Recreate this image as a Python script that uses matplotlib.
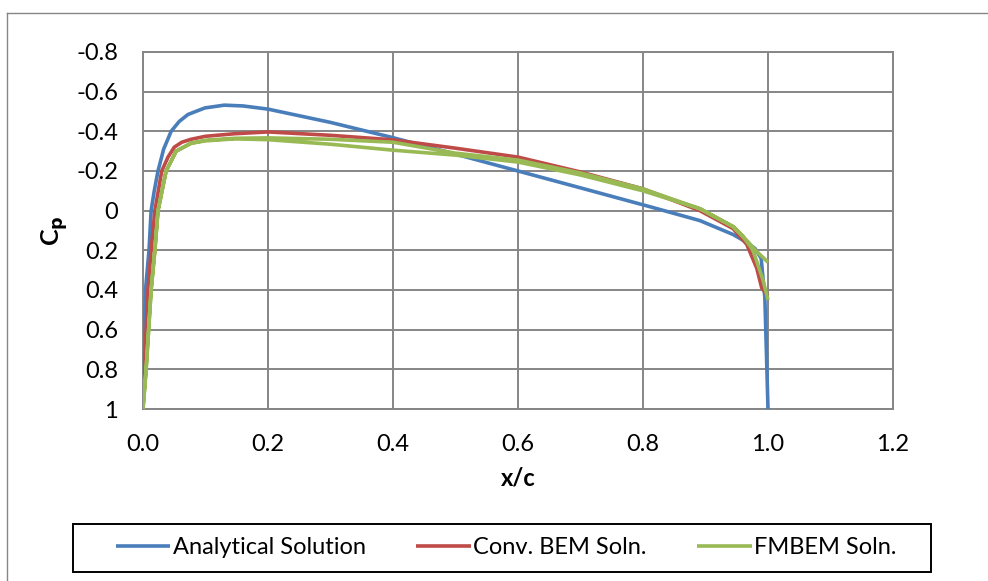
import matplotlib
matplotlib.use("Agg")
import matplotlib.pyplot as plt
from matplotlib.patches import Rectangle
from matplotlib.lines import Line2D
from matplotlib.ticker import FixedLocator, FixedFormatter

plt.rcParams['font.family'] = ['Lato', 'DejaVu Sans']

# ---------------- data ----------------
analytical_x = [1.0, 0.995, 0.989, 0.979, 0.966, 0.944, 0.891, 0.811, 0.70, 0.60, 0.50,
                0.40, 0.30, 0.20, 0.16, 0.13, 0.099, 0.072, 0.058, 0.045, 0.033, 0.024,
                0.018, 0.013, 0.0096, 0.004, 0.002, 0.001, 0.0]
analytical_cp = [1.0, 0.44, 0.24, 0.19, 0.16, 0.12, 0.05, -0.02, -0.115, -0.20, -0.285,
                 -0.368, -0.445, -0.512, -0.528, -0.532, -0.518, -0.485, -0.45, -0.40, -0.31,
                 -0.20, -0.10, 0.0, 0.2, 0.4, 0.6, 0.78, 1.0]

bem_x = [0.0, 0.002, 0.005, 0.008, 0.013, 0.019, 0.030, 0.040, 0.050, 0.062, 0.077, 0.10,
         0.147, 0.20, 0.30, 0.40, 0.50, 0.60, 0.70, 0.80, 0.891, 0.944, 0.966, 0.982,
         0.99, 1.0]
bem_cp = [0.87, 0.8, 0.6, 0.4, 0.2, 0.0, -0.2, -0.27, -0.32, -0.345, -0.36, -0.375,
          -0.388, -0.397, -0.38, -0.357, -0.315, -0.27, -0.195, -0.11, 0.0, 0.09, 0.17,
          0.29, 0.39, 0.43]

fmbem_x = [1.0, 0.992, 0.976, 0.96, 0.944, 0.891, 0.80, 0.70, 0.60, 0.50, 0.40, 0.30, 0.20,
           0.147, 0.10, 0.077, 0.053, 0.037, 0.024, 0.019, 0.013, 0.009, 0.005, 0.0,
           0.005, 0.009, 0.013, 0.019, 0.024, 0.037, 0.053, 0.077, 0.10, 0.147, 0.20,
           0.30, 0.40, 0.50, 0.60, 0.70, 0.80, 0.891, 0.944, 0.966, 0.98, 1.0]
fmbem_cp = [0.45, 0.35, 0.20, 0.13, 0.08, -0.01, -0.10, -0.18, -0.245, -0.28, -0.305, -0.335,
            -0.358, -0.362, -0.352, -0.34, -0.30, -0.20, 0.0, 0.2, 0.4, 0.6, 0.8, 1.0,
            0.8, 0.6, 0.4, 0.2, 0.0, -0.20, -0.30, -0.34, -0.355, -0.365, -0.367,
            -0.36, -0.345, -0.29, -0.255, -0.19, -0.11, -0.01, 0.08, 0.15, 0.20, 0.26]

series_labels = ["Analytical Solution", "Conv. BEM Soln.", "FMBEM Soln."]
x_ticks = [0.0, 0.2, 0.4, 0.6, 0.8, 1.0, 1.2]
x_ticklabels = ["0.0", "0.2", "0.4", "0.6", "0.8", "1.0", "1.2"]
y_ticks = [-0.8, -0.6, -0.4, -0.2, 0.0, 0.2, 0.4, 0.6, 0.8, 1.0]
y_ticklabels = ["-0.8", "-0.6", "-0.4", "-0.2", "0", "0.2", "0.4", "0.6", "0.8", "1"]

# ---------------- figure ----------------
W, H = 988, 581
fig = plt.figure(figsize=(W / 100, H / 100), dpi=100)
fig.patch.set_facecolor("white")

grid_col = "#868686"
# outer chart border (only top/left edges fall inside the picture)
fig.add_artist(Line2D([7 / W, 1.0], [1 - 13 / H, 1 - 13 / H], transform=fig.transFigure,
                      color=grid_col, linewidth=1.0))
fig.add_artist(Line2D([7 / W, 7 / W], [0.0, 1 - 13 / H], transform=fig.transFigure,
                      color=grid_col, linewidth=1.0))

ax = fig.add_axes([143 / W, 1 - 409 / H, (893 - 143) / W, (409 - 52) / H])

c_blue, c_red, c_green = "#4A7EBB", "#BE4B48", "#98B954"
lw = 2.6

ax.plot(analytical_x, analytical_cp, color=c_blue, lw=lw, label=series_labels[0],
        solid_joinstyle="round", solid_capstyle="butt", zorder=3)
ax.plot(bem_x, bem_cp, color=c_red, lw=lw, label=series_labels[1],
        solid_joinstyle="round", solid_capstyle="butt", zorder=4)
ax.plot(fmbem_x, fmbem_cp, color=c_green, lw=lw, label=series_labels[2],
        solid_joinstyle="round", solid_capstyle="butt", zorder=5)

ax.set_xlim(0, 1.2)
ax.set_ylim(1.0, -0.8)
ax.xaxis.set_major_locator(FixedLocator(x_ticks))
ax.xaxis.set_major_formatter(FixedFormatter(x_ticklabels))
ax.yaxis.set_major_locator(FixedLocator(y_ticks))
ax.yaxis.set_major_formatter(FixedFormatter(y_ticklabels))
ax.tick_params(length=0, labelsize=17, colors="black")
ax.tick_params(axis="x", pad=18)
ax.tick_params(axis="y", pad=18)
ax.grid(True, color=grid_col, linewidth=1.4)
ax.set_axisbelow(True)
for s in ax.spines.values():
    s.set_color(grid_col)
    s.set_linewidth(1.4)

ax.set_xlabel("x/c", fontsize=17, fontweight="bold", labelpad=8)
ax.set_ylabel("C$_\\mathbf{p}$", fontsize=18, fontweight="bold", labelpad=4)

# legend: frame drawn manually to match the reference box
fig.add_artist(Rectangle((73 / W, 1 - 572 / H), (931 - 73) / W, (572 - 524) / H,
                         transform=fig.transFigure, fill=False, edgecolor="black",
                         linewidth=1.4, zorder=2))
leg = fig.legend(loc="center left", bbox_to_anchor=(116 / W, 1 - 548 / H),
                 ncol=3, fontsize=17, frameon=False,
                 handlelength=2.3, handletextpad=0.1, columnspacing=2.15,
                 borderpad=0.0, borderaxespad=0.0)

fig.savefig("out.png", dpi=100, facecolor="white")
